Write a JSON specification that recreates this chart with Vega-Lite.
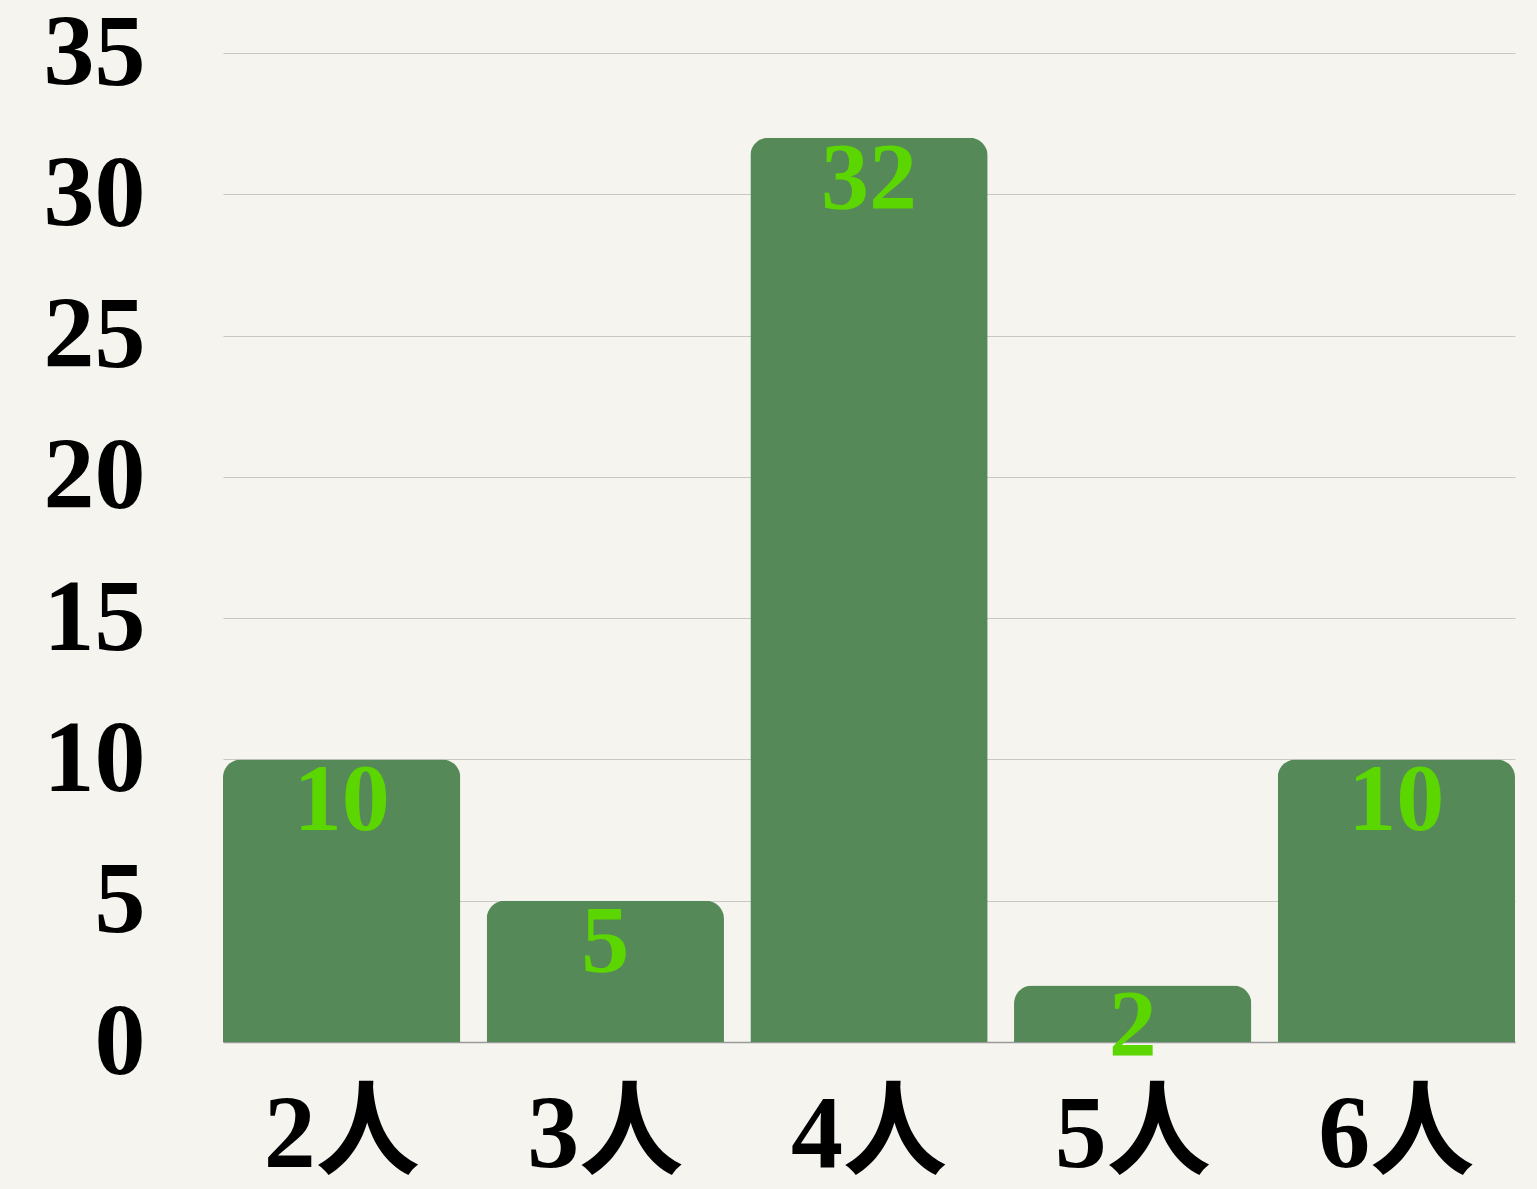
{
  "$schema": "https://vega.github.io/schema/vega-lite/v6.json",
  "width": 1292,
  "height": 989,
  "autosize": {"type": "none"},
  "padding": {"left": 223, "top": 53, "right": 22, "bottom": 147},
  "background": "#f5f4ef",
  "config": {
    "view": {"stroke": null},
    "font": "Liberation Serif"
  },
  "data": {
    "values": [
      {"group": "2人", "count": 10},
      {"group": "3人", "count": 5},
      {"group": "4人", "count": 32},
      {"group": "5人", "count": 2},
      {"group": "6人", "count": 10}
    ]
  },
  "encoding": {
    "x": {
      "field": "group",
      "type": "nominal",
      "sort": null,
      "scale": {"paddingInner": 0.1, "paddingOuter": 0},
      "axis": {
        "title": null,
        "labelAngle": 0,
        "labelFont": "Liberation Serif, Noto Sans CJK JP",
        "labelFontSize": 104,
        "labelFontWeight": "bold",
        "labelColor": "#000000",
        "labelPadding": 42,
        "ticks": false,
        "domainColor": "#999999",
        "domainWidth": 1.5,
        "grid": false
      }
    },
    "y": {
      "field": "count",
      "type": "quantitative",
      "scale": {"domain": [0, 35]},
      "axis": {
        "title": null,
        "values": [0, 5, 10, 15, 20, 25, 30, 35],
        "labelFont": "Liberation Serif",
        "labelFontSize": 102,
        "labelFontWeight": "bold",
        "labelColor": "#000000",
        "labelPadding": 78,
        "ticks": false,
        "domain": false,
        "gridColor": "#c8c8c4",
        "gridWidth": 1.2
      }
    }
  },
  "layer": [
    {
      "mark": {
        "type": "bar",
        "color": "#558a58",
        "cornerRadiusTopLeft": 18,
        "cornerRadiusTopRight": 18
      }
    },
    {
      "mark": {
        "type": "text",
        "color": "#5cd600",
        "font": "Liberation Serif",
        "fontSize": 96,
        "fontWeight": "bold",
        "baseline": "middle",
        "dy": 42
      },
      "encoding": {
        "text": {"field": "count", "type": "quantitative"}
      }
    }
  ]
}
